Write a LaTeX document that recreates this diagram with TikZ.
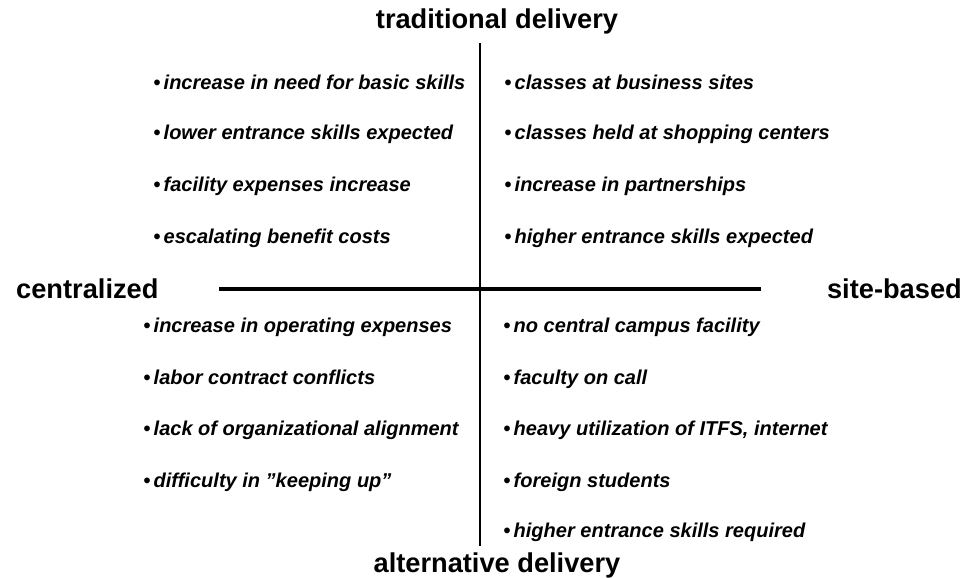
\documentclass[tikz,border=0pt]{standalone}
\usepackage{fontspec}
\setmainfont{Liberation Sans}
\usetikzlibrary{positioning}

\begin{document}
\begin{tikzpicture}[
    x=0.02cm, y=-0.02cm,
    axislabel/.style={font=\fontsize{15.5}{17}\selectfont\bfseries},
    item/.style={anchor=base west, inner sep=0pt, yshift=-0.12cm,
                 font=\fontsize{11.4}{13}\selectfont\bfseries\itshape},
    axis/.style={line width=1.2pt}
  ]
    \useasboundingbox (0,0) rectangle (971,578);
    % axes
    \coordinate (top)    at (480,43);
    \coordinate (bottom) at (480,546);
    \coordinate (left)   at (219,289);
    \coordinate (right)  at (761,289);
    \draw[axis] (top) -- (bottom);
    \draw[axis, line width=1.8pt] (left) -- (right);
    % axis labels
    \node[axislabel] (trad) at (497,21)  {traditional delivery};
    \node[axislabel] (alt)  at (497,565) {alternative delivery};
    \node[axislabel, anchor=west] (cent) at (10,289)  {centralized};
    \node[axislabel, anchor=east] (site) at (968,289) {site-based};
    % upper left
    \node[item] (ul1) at (153,83)  {\textbullet\,increase in need for basic skills};
    \node[item] (ul2) at (153,134) {\textbullet\,lower entrance skills expected};
    \node[item] (ul3) at (153,185) {\textbullet\,facility expenses increase};
    \node[item] (ul4) at (153,237) {\textbullet\,escalating benefit costs};
    % upper right
    \node[item] (ur1) at (504,83)  {\textbullet\,classes at business sites};
    \node[item] (ur2) at (504,134) {\textbullet\,classes held at shopping centers};
    \node[item] (ur3) at (504,185) {\textbullet\,increase in partnerships};
    \node[item] (ur4) at (504,237) {\textbullet\,higher entrance skills expected};
    % lower left
    \node[item] (ll1) at (143,326) {\textbullet\,increase in operating expenses};
    \node[item] (ll2) at (143,378) {\textbullet\,labor contract conflicts};
    \node[item] (ll3) at (143,429) {\textbullet\,lack of organizational alignment};
    \node[item] (ll4) at (143,481) {\textbullet\,difficulty in \symbol{34}keeping up\symbol{34}};
    % lower right
    \node[item] (lr1) at (503,326) {\textbullet\,no central campus facility};
    \node[item] (lr2) at (503,378) {\textbullet\,faculty on call};
    \node[item] (lr3) at (503,429) {\textbullet\,heavy utilization of ITFS, internet};
    \node[item] (lr4) at (503,481) {\textbullet\,foreign students};
    \node[item] (lr5) at (503,531) {\textbullet\,higher entrance skills required};
  \end{tikzpicture}
\end{document}
